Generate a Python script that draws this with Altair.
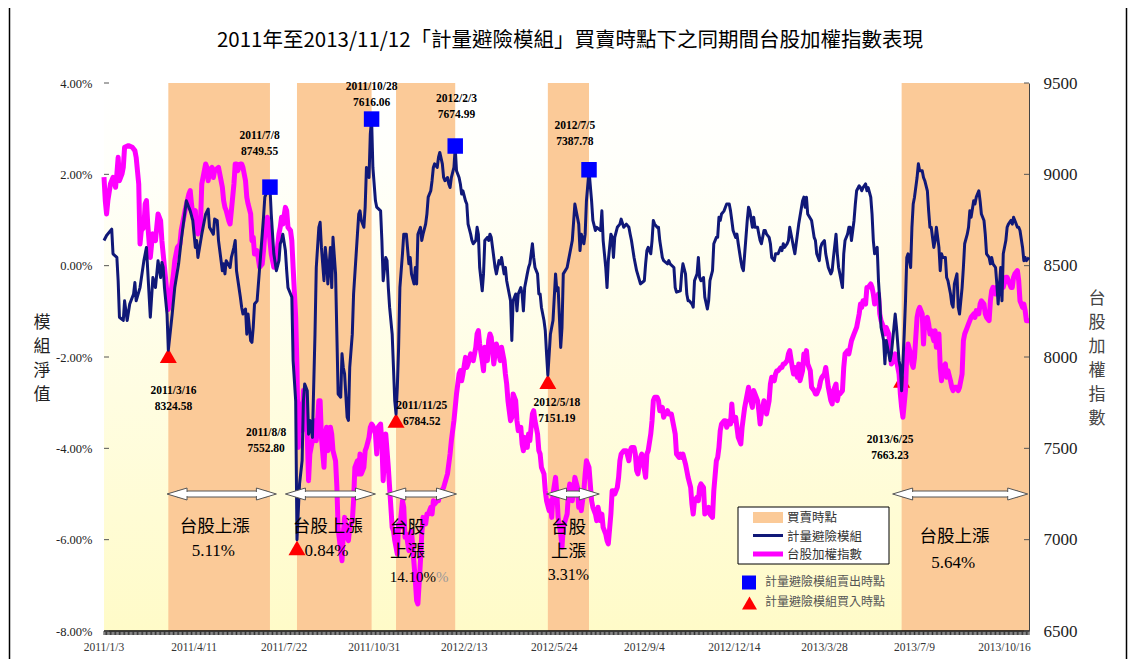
import altair as alt
import pandas as pd

W, H = 925, 548
N_LAST = 719

TITLE = "2011年至2013/11/12「計量避險模組」買賣時點下之同期間台股加權指數表現"
LEFT_TITLE = ["模", "組", "淨", "值"]
RIGHT_TITLE = ["台", "股", "加", "權", "指", "數"]

tick_days = [0, 70, 140, 210, 280, 350, 420, 490, 560, 630, 700]
tick_labels = ["2011/1/3", "2011/4/11", "2011/7/22", "2011/10/31", "2012/2/13",
               "2012/5/24", "2012/9/4", "2012/12/14", "2013/3/28", "2013/7/9", "2013/10/16"]
left_ticks = [-8, -6, -4, -2, 0, 2, 4]
right_ticks = [6500, 7000, 7500, 8000, 8500, 9000, 9500]

# 計量避險模組 (trading-day index, net value %)
model_series = [
    (0, 0.55), (2, 0.66), (6, 0.80), (7, 0.26), (10, 0.18), (11, -0.33), (12, -1.13), (15, -1.20),
    (16, -0.77), (18, -1.20), (20, -0.84), (23, -0.62), (24, -0.37), (25, -0.77), (28, -0.48),
    (31, 0.11), (33, 0.40), (36, -1.13), (38, -0.26), (40, -0.48), (42, 0.11), (44, -0.26),
    (45, 0.07), (46, -0.04), (47, -0.48), (49, -1.06), (50, -1.85), (53, -1.06), (55, -0.48),
    (58, 0.04), (60, 0.55), (63, 1.20), (64, 1.42), (67, 1.20), (69, 0.99), (71, 0.40), (72, 0.55),
    (73, 0.18), (76, 0.69), (79, 1.13), (81, 1.24), (82, 0.84), (85, 0.69), (86, 1.02), (88, 0.99),
    (89, 0.55), (92, -0.11), (93, 0.04), (94, -0.18), (95, 0.11), (98, -0.04), (99, 0.18),
    (101, 0.40), (102, 0.55), (103, -0.11), (106, -0.69), (107, -0.91), (108, -1.06), (110, -0.95),
    (111, -1.50), (112, -1.06), (114, -1.64), (115, -1.68), (116, -1.35), (117, -0.84), (119, -0.77),
    (121, -0.04), (124, 1.06), (125, 1.50), (127, 1.64), (129, 1.72), (130, 1.13), (132, 0.26),
    (134, -0.11), (136, 0.11), (137, 0.48), (138, 0.55), (139, 0.69), (141, 0.33), (142, -0.11),
    (143, -0.48), (145, -0.62), (146, -0.69), (147, -2.08), (149, -2.96), (150, -6.00), (152, -4.78),
    (154, -4.27), (155, -2.96), (156, -2.59), (158, -2.74), (159, -3.69), (160, -3.39), (162, -3.76),
    (164, -1.50), (165, -0.04), (167, 0.84), (168, 0.95), (169, 0.40), (171, -0.33), (172, 0.40),
    (173, 0.11), (174, -0.40), (176, 0.40), (177, -0.48), (178, 0.62), (180, -0.18), (181, -1.50),
    (182, -2.81), (184, -2.88), (185, -1.93), (186, -2.23), (187, -2.37), (189, -3.32), (190, -3.39),
    (191, -2.23), (193, -1.50), (194, -0.62), (197, 0.69), (198, 1.13), (199, 1.20), (200, 0.99),
    (202, 0.84), (203, 1.28), (204, 2.15), (206, 1.93), (207, 2.88), (208, 3.21), (209, 2.15),
    (211, 1.42), (212, 1.28), (215, 1.20), (216, 0.55), (217, -0.33), (219, 0.18), (220, 0.11),
    (221, -0.48), (222, -0.91), (224, -1.50), (225, -2.23), (226, -2.96), (227, -3.25), (228, -2.66),
    (229, -1.79), (230, -0.48), (232, 0.26), (233, 0.69), (235, 0.69), (237, 0.04), (238, 0.18),
    (239, -0.18), (241, -0.40), (242, -0.04), (243, -0.40), (244, 0.69), (246, 0.84), (247, 0.55),
    (248, 0.69), (250, 0.91), (251, 1.13), (252, 1.50), (254, 1.64), (255, 1.86), (256, 2.15),
    (257, 2.23), (259, 2.15), (260, 2.37), (261, 2.48), (263, 2.23), (264, 1.93), (265, 1.86),
    (267, 1.93), (268, 1.79), (269, 1.71), (270, 1.93), (272, 2.15), (273, 2.58), (274, 2.08),
    (276, 1.93), (277, 1.79), (278, 1.57), (279, 1.64), (281, 1.42), (282, 1.35), (283, 0.91),
    (285, 0.69), (286, 0.55), (287, 0.48), (289, 0.55), (290, 0.84), (291, 0.69), (292, -0.04),
    (294, -0.55), (295, -0.18), (296, 0.55), (298, 0.62), (299, 0.55), (300, 0.69), (301, 0.62),
    (303, 0.18), (304, -0.04), (305, -0.18), (307, 0.11), (308, 0.04), (309, 0.18), (311, -0.18),
    (312, -0.04), (313, -0.33), (314, -0.48), (316, -0.77), (317, -1.64), (318, -0.77), (320, -0.62),
    (321, -0.99), (322, -0.62), (324, -0.48), (325, -0.62), (326, -0.99), (327, -0.48), (329, -0.18),
    (330, -0.04), (331, 0.04), (333, 0.48), (334, 0.18), (335, -0.04), (337, -0.18), (338, -0.62),
    (339, -0.62), (340, -0.91), (342, -1.20), (343, -1.42), (344, -1.93), (345, -2.40), (347, -1.50),
    (348, -1.35), (349, -1.20), (351, -0.18), (352, -0.55), (353, -0.48), (355, -1.79), (356, -1.35),
    (357, -0.18), (360, -0.04), (361, 0.11), (364, 0.55), (366, 1.35), (369, 0.91), (370, 0.33),
    (371, 0.69), (373, 0.48), (374, 0.69), (375, 1.42), (377, 2.08), (379, 1.42), (380, 0.99),
    (382, 0.77), (383, 0.84), (386, 0.77), (387, 1.20), (388, 0.55), (390, -0.04), (391, -0.48),
    (392, 0.11), (394, 0.69), (395, 0.62), (396, 0.18), (397, 0.62), (399, 0.84), (401, 0.91),
    (402, 1.02), (404, 0.84), (406, 0.91), (408, 0.84), (409, 0.69), (410, 0.55), (412, 0.18),
    (414, -0.11), (417, -0.40), (420, -0.33), (421, 0.04), (422, 0.33), (423, 0.40), (425, 0.26),
    (426, 0.55), (427, 0.99), (428, 0.91), (430, 0.84), (431, 0.84), (432, 0.55), (434, 0.18),
    (435, 0.11), (438, 0.04), (439, 0.11), (440, 0.04), (443, -0.04), (444, -0.48), (445, -0.58),
    (448, -0.55), (449, -0.18), (450, 0.04), (452, -0.18), (453, -0.62), (454, -0.77), (455, -0.77),
    (457, -0.84), (458, -0.91), (459, -0.33), (461, -0.18), (462, 0.18), (463, -0.26), (464, -0.33),
    (466, -0.26), (467, -0.69), (469, -0.95), (470, -0.77), (471, -0.33), (473, -0.11), (474, 0.48),
    (476, 0.62), (477, 0.62), (478, 1.06), (479, 0.99), (480, 1.13), (482, 1.20), (483, 1.28),
    (484, 1.35), (486, 1.35), (487, 1.20), (488, 0.99), (489, 0.77), (491, 0.62), (492, 0.69),
    (493, 0.48), (495, 0.11), (496, -0.04), (497, -0.11), (498, 0.26), (500, 0.99), (501, 1.28),
    (502, 1.20), (504, 0.84), (505, 1.06), (506, 0.84), (508, 0.84), (509, 0.69), (510, 0.55),
    (511, 0.48), (513, 0.77), (514, 0.77), (515, 0.69), (517, 0.62), (518, 0.48), (519, 0.18),
    (521, 0.11), (522, 0.26), (523, 0.26), (524, 0.26), (526, 0.40), (527, 0.33), (528, 0.48),
    (529, 0.40), (531, 0.48), (532, 0.55), (533, 0.84), (535, 0.55), (536, 0.40), (537, 0.26),
    (539, 0.69), (540, 0.91), (543, 1.42), (544, 1.50), (545, 1.28), (546, 1.50), (547, 1.13),
    (550, 0.99), (552, 0.62), (553, 0.55), (554, 0.26), (556, 0.11), (557, 0.40), (558, 0.48),
    (560, 0.55), (561, 0.26), (562, 0.11), (563, -0.04), (565, -0.18), (566, -0.11), (567, 0.18),
    (569, 0.69), (570, 0.26), (571, -0.04), (572, -0.18), (574, -0.48), (575, 0.26), (576, 0.55),
    (578, 0.69), (579, 0.84), (580, 0.84), (581, 0.55), (583, 0.99), (584, 1.35), (585, 1.64),
    (587, 1.75), (588, 1.71), (589, 1.64), (590, 1.71), (592, 1.79), (593, 1.64), (594, 1.71),
    (596, 1.50), (597, 1.13), (598, 0.55), (599, 0.26), (601, 0.40), (602, -0.33), (603, -0.77),
    (604, -1.35), (606, -1.64), (607, -2.15), (608, -1.64), (610, -1.93), (611, -2.08), (612, -1.93),
    (614, -1.35), (615, -1.06), (616, -1.35), (618, -2.08), (619, -2.23), (620, -2.74), (622, -1.50),
    (623, -0.77), (624, 0.18), (625, 0.26), (627, -0.04), (628, 0.84), (629, 1.35), (630, 1.50),
    (632, 1.93), (633, 2.23), (634, 2.08), (636, 2.08), (637, 1.93), (638, 1.86), (640, 1.64),
    (641, 1.20), (642, 0.84), (643, 0.84), (645, 0.40), (646, 0.55), (647, 0.84), (649, 0.40),
    (650, -0.11), (651, 0.26), (652, 0.18), (654, 0.18), (655, -0.26), (656, -0.33), (658, -0.62),
    (659, -0.84), (660, -0.91), (661, -0.40), (663, -0.18), (664, -0.91), (665, -1.06), (667, -0.48),
    (668, -0.04), (669, 0.48), (671, 0.69), (672, 0.84), (673, 1.20), (674, 1.06), (676, 1.42),
    (677, 1.35), (678, 1.50), (680, 1.64), (681, 1.42), (682, 1.13), (684, 0.99), (685, 0.69),
    (686, 0.26), (688, 0.18), (689, 0.04), (690, 0.18), (691, 0.04), (693, -0.04), (694, -0.40),
    (695, -0.84), (697, -0.04), (698, -0.77), (699, 0.26), (701, 0.55), (702, 0.84), (703, 0.91),
    (705, 0.99), (706, 0.91), (707, 1.06), (708, 0.99), (710, 0.84), (711, 0.84), (712, 0.77),
    (714, 0.40), (715, 0.11), (716, 0.18), (717, 0.11), (719, 0.18),
]

# 台股加權指數 (trading-day index, index level)
taiex_series = [
    (0, 8985), (1, 8856), (2, 8783), (3, 8856), (5, 8947), (7, 8983), (9, 8929), (10, 9002),
    (11, 9093), (12, 8965), (14, 9002), (15, 9038), (16, 9148), (19, 9157), (22, 9148), (24, 9130),
    (25, 9093), (27, 8947), (28, 8619), (29, 8692), (31, 8710), (32, 8838), (33, 8856), (34, 8728),
    (36, 8545), (37, 8619), (38, 8674), (40, 8637), (41, 8710), (42, 8783), (44, 8746), (45, 8637),
    (46, 8564), (47, 8491), (49, 8345), (50, 8260), (51, 8290), (53, 8400), (54, 8455), (55, 8527),
    (57, 8600), (59, 8619), (60, 8692), (63, 8801), (66, 8893), (67, 8911), (68, 8838), (69, 8783),
    (71, 8801), (72, 8692), (73, 8674), (75, 8728), (76, 8947), (79, 9057), (80, 9038), (81, 8965),
    (82, 9020), (84, 9038), (85, 8983), (86, 9020), (89, 9038), (90, 9002), (92, 8929), (93, 8856),
    (94, 8819), (95, 8801), (97, 8746), (98, 8728), (99, 8801), (101, 8947), (102, 9057),
    (103, 9057), (104, 9020), (106, 9057), (107, 9057), (108, 9038), (110, 8965), (111, 8874),
    (112, 8838), (114, 8783), (115, 8637), (116, 8655), (117, 8564), (119, 8582), (121, 8491),
    (123, 8509), (124, 8582), (125, 8674), (127, 8765), (128, 8710), (129, 8637), (130, 8564),
    (132, 8491), (133, 8491), (134, 8545), (136, 8674), (137, 8710), (138, 8765), (139, 8728),
    (141, 8819), (142, 8801), (143, 8710), (145, 8692), (146, 8637), (147, 8491), (149, 8217),
    (150, 7943), (151, 7505), (152, 7743), (154, 7597), (155, 7816), (156, 7761), (158, 7579),
    (159, 7323), (160, 7469), (163, 7579), (164, 7651), (165, 7542), (167, 7761), (168, 7761),
    (169, 7560), (171, 7396), (172, 7579), (173, 7615), (174, 7487), (176, 7615), (177, 7579),
    (178, 7487), (180, 7432), (181, 7290), (182, 7060), (184, 6940), (185, 6885), (186, 7031),
    (187, 7122), (189, 7013), (190, 6995), (191, 7067), (193, 7104), (194, 7213), (195, 7396),
    (197, 7432), (198, 7360), (199, 7469), (200, 7360), (202, 7396), (203, 7487), (204, 7505),
    (206, 7560), (207, 7615), (208, 7633), (209, 7624), (211, 7579), (212, 7469), (213, 7615),
    (215, 7633), (216, 7524), (217, 7323), (219, 7579), (220, 7487), (221, 7396), (222, 7286),
    (224, 7067), (225, 7049), (226, 6995), (228, 6922), (229, 7086), (230, 7067), (232, 7213),
    (233, 7177), (234, 7013), (235, 7031), (237, 6940), (238, 7031), (239, 7049), (241, 6867),
    (242, 6776), (243, 6666), (244, 6648), (246, 6885), (247, 7031), (248, 7122), (250, 7086),
    (251, 7140), (252, 7140), (254, 7177), (255, 7140), (256, 7213), (257, 7195), (259, 7213),
    (260, 7213), (261, 7250), (264, 7286), (267, 7360), (269, 7469), (270, 7542), (272, 7651),
    (273, 7724), (274, 7798), (276, 7907), (277, 7925), (278, 7870), (279, 7907), (281, 7998),
    (282, 7943), (283, 7962), (285, 8017), (286, 7998), (287, 7980), (289, 8053), (290, 8126),
    (291, 8144), (292, 8071), (294, 7980), (295, 7925), (296, 8053), (298, 7980), (299, 8089),
    (300, 8126), (301, 8107), (303, 7962), (304, 8017), (305, 8071), (307, 8017), (308, 7980),
    (309, 8053), (311, 7980), (312, 7907), (313, 7852), (314, 7761), (316, 7651), (317, 7670),
    (318, 7798), (320, 7761), (321, 7651), (322, 7597), (324, 7615), (325, 7524), (326, 7487),
    (327, 7560), (329, 7505), (330, 7579), (331, 7542), (333, 7688), (334, 7706), (335, 7651),
    (337, 7579), (338, 7487), (339, 7469), (340, 7396), (342, 7360), (343, 7268), (344, 7213),
    (346, 7159), (347, 7213), (348, 7122), (349, 7250), (351, 7341), (352, 7250), (353, 7122),
    (355, 7031), (356, 6958), (357, 7070), (360, 7140), (361, 7250), (362, 7305), (364, 7213),
    (365, 7268), (366, 7341), (368, 7286), (369, 7177), (370, 7213), (371, 7159), (373, 7268),
    (374, 7360), (375, 7432), (377, 7396), (378, 7305), (379, 7213), (380, 7177), (382, 7140),
    (383, 7104), (384, 7177), (386, 7104), (387, 7140), (388, 7067), (390, 7031), (391, 6995),
    (392, 6977), (394, 7140), (395, 7268), (396, 7268), (397, 7250), (399, 7286), (400, 7341),
    (401, 7432), (402, 7469), (404, 7487), (406, 7487), (408, 7432), (409, 7487), (410, 7505),
    (412, 7505), (413, 7469), (414, 7378), (415, 7360), (417, 7450), (418, 7469), (419, 7432),
    (421, 7341), (422, 7469), (423, 7487), (425, 7579), (426, 7651), (427, 7761), (428, 7779),
    (430, 7779), (431, 7761), (432, 7706), (434, 7724), (435, 7670), (436, 7688), (438, 7706),
    (439, 7688), (441, 7688), (443, 7615), (444, 7579), (445, 7469), (447, 7450), (448, 7469),
    (449, 7450), (450, 7469), (452, 7414), (453, 7378), (454, 7341), (456, 7286), (457, 7195),
    (458, 7140), (459, 7213), (461, 7232), (462, 7213), (463, 7286), (464, 7305), (466, 7286),
    (467, 7140), (469, 7159), (470, 7177), (471, 7140), (473, 7122), (474, 7268), (476, 7432),
    (477, 7450), (478, 7505), (479, 7597), (480, 7633), (482, 7651), (483, 7651), (484, 7615),
    (486, 7651), (487, 7633), (488, 7743), (489, 7651), (491, 7670), (492, 7615), (493, 7560),
    (495, 7524), (496, 7615), (497, 7670), (498, 7724), (500, 7798), (501, 7834), (502, 7779),
    (504, 7724), (505, 7816), (506, 7798), (508, 7761), (509, 7706), (510, 7633), (511, 7688),
    (513, 7761), (514, 7724), (515, 7688), (517, 7761), (518, 7852), (519, 7889), (521, 7870),
    (522, 7907), (523, 7925), (524, 7925), (526, 7943), (527, 7943), (528, 7962), (529, 7962),
    (531, 7980), (532, 8017), (533, 8035), (535, 7943), (536, 7907), (537, 7943), (539, 7889),
    (540, 7962), (541, 7870), (543, 7925), (544, 8017), (545, 7980), (546, 8035), (547, 7962),
    (549, 7925), (550, 7834), (552, 7816), (553, 7798), (554, 7798), (556, 7834), (557, 7870),
    (558, 7889), (560, 7907), (561, 7943), (562, 7889), (563, 7834), (565, 7761), (566, 7743),
    (567, 7816), (569, 7852), (570, 7761), (571, 7798), (572, 7798), (574, 7816), (575, 7943),
    (576, 8017), (578, 8035), (579, 8017), (580, 8053), (581, 8089), (583, 8126), (584, 8144),
    (585, 8162), (587, 8236), (588, 8290), (589, 8272), (590, 8308), (592, 8290), (593, 8381),
    (594, 8381), (596, 8400), (597, 8381), (598, 8345), (599, 8290), (601, 8308), (602, 8345),
    (603, 8236), (604, 8199), (606, 8162), (607, 8126), (608, 8162), (610, 8126), (611, 8053),
    (612, 7962), (614, 7980), (615, 8017), (616, 7980), (618, 7907), (619, 7798), (620, 7724),
    (621, 7670), (623, 7816), (624, 8017), (625, 8071), (627, 8017), (628, 7962), (629, 7943),
    (630, 7998), (632, 8217), (633, 8254), (634, 8272), (636, 8236), (637, 8071), (638, 8199),
    (640, 8217), (641, 8181), (642, 8126), (643, 8144), (645, 8089), (646, 8144), (647, 8053),
    (649, 8126), (650, 7943), (651, 7870), (652, 7943), (654, 7962), (655, 7889), (656, 7925),
    (658, 7870), (659, 7834), (660, 7816), (661, 7834), (663, 7834), (664, 7816), (665, 7834),
    (667, 7907), (668, 8089), (669, 8126), (671, 8162), (672, 8181), (673, 8199), (674, 8217),
    (676, 8236), (677, 8217), (678, 8254), (680, 8236), (681, 8290), (682, 8308), (684, 8290),
    (685, 8236), (686, 8217), (688, 8199), (689, 8308), (690, 8363), (691, 8381), (693, 8345),
    (694, 8381), (695, 8345), (697, 8381), (698, 8418), (699, 8381), (701, 8436), (702, 8436),
    (703, 8418), (705, 8381), (706, 8381), (707, 8436), (708, 8455), (710, 8473), (711, 8418),
    (712, 8308), (714, 8272), (715, 8290), (716, 8254), (717, 8199), (719, 8199),
]

# buy (red triangle) and sell (blue square) points
buy_day = [50, 150, 227, 345, 620]
buy_pct = [-1.97, -6.18, -3.39, -2.54, -2.51]
buy_date = ["2011/3/16", "2011/8/8", "2011/11/25", "2012/5/18", "2013/6/25"]
buy_index = ["8324.58", "7552.80", "6784.52", "7151.19", "7663.23"]
buy_label_day = [54, 126, 247, 352, 611]
buy_label_pct = [-2.93, -3.83, -3.25, -3.18, -4.00]

sell_day = [129, 208, 273, 377]
sell_pct = [1.72, 3.21, 2.62, 2.10]
sell_date = ["2011/7/8", "2011/10/28", "2012/2/3", "2012/7/5"]
sell_index = ["8749.55", "7616.06", "7674.99", "7387.78"]
sell_label_day = [121, 208, 274, 366]
sell_label_pct = [2.67, 3.74, 3.47, 2.88]

# double arrows marking each holding period
arrow_start = [49, 141, 219, 344, 613]
arrow_end = [134, 211, 274, 385, 718]
arrow_pct = [-5.0, -5.0, -5.0, -5.0, -5.0]

rise_cjk = ["台股上漲", "台股上漲", "台股", "上漲", "台股", "上漲", "台股上漲"]
rise_cjk_day = [86, 174, 236, 236, 361, 361, 661]
rise_cjk_pct = [-5.73, -5.73, -5.74, -6.28, -5.74, -6.28, -5.95]
rise_num = ["5.11%", "0.84%", "14.10%", "%", "3.31%", "5.64%"]
rise_num_day = [85, 173, 240, 263, 361, 660]
rise_num_pct = [-6.24, -6.24, -6.81, -6.81, -6.78, -6.50]
rise_num_size = [17, 17, 15, 15, 16, 17]
rise_num_color = ["#000000", "#000000", "#000000", "#999999", "#000000", "#000000"]

legend_labels = ["買賣時點", "計量避險模組", "台股加權指數"]
marker_labels = ["計量避險模組賣出時點", "計量避險模組買入時點"]

ORANGE = "#FBCA98"
NAVY = "#101878"
MAGENTA = "#FF00FF"
CJK = "Noto Sans CJK TC"
SERIF = "Liberation Serif"

# ---------------------------------------------------------------- data frames
model_df = pd.DataFrame(model_series, columns=["day", "pct"])
taiex_df = pd.DataFrame(taiex_series, columns=["day", "val"])
period_df = pd.DataFrame({"start": buy_day, "end": sell_day + [N_LAST]})
buy_df = pd.DataFrame({"day": buy_day, "pct": buy_pct})
sell_df = pd.DataFrame({"day": sell_day, "pct": sell_pct})
label_df = pd.DataFrame({
    "day": sell_label_day + buy_label_day,
    "pct": sell_label_pct + buy_label_pct,
    "date": sell_date + buy_date,
    "idx": sell_index + buy_index,
})
half = 3.0 / (H / 12.0)
arrow_df = pd.DataFrame({"start": arrow_start, "end": arrow_end, "pct": arrow_pct})
arrow_df["top"] = arrow_df["pct"] + half
arrow_df["bot"] = arrow_df["pct"] - half
cjk_df = pd.DataFrame({"day": rise_cjk_day, "pct": rise_cjk_pct, "t": rise_cjk})
num_df = pd.DataFrame({"day": rise_num_day, "pct": rise_num_pct, "t": rise_num,
                       "fs": rise_num_size, "c": rise_num_color})
tick_df = pd.DataFrame({"pct": left_ticks})
xlab_df = pd.DataFrame({"day": tick_days, "t": tick_labels})
comb_df = pd.DataFrame({"day": list(range(N_LAST + 1))})   # one minor tick per trading day
one = pd.DataFrame({"k": [0]})

X = alt.Scale(domain=[0, N_LAST], nice=False, zero=False)
YL = alt.Scale(domain=[-8, 4], nice=False, zero=False)
YR = alt.Scale(domain=[6500, 9500], nice=False, zero=False)


def xq(field):
    return alt.X(f"{field}:Q", scale=X, axis=None)


def yq(field):
    return alt.Y(f"{field}:Q", scale=YL, axis=None)


# ---------------------------------------------------------------- layers
grad = alt.LinearGradient(
    gradient="linear",
    stops=[alt.GradientStop(color="#FFFFFF", offset=0),
           alt.GradientStop(color="#FFFFFA", offset=0.15),
           alt.GradientStop(color="#FFFBC8", offset=1)],
    x1=0, x2=0, y1=0, y2=1,
)
bg = alt.Chart(one).mark_rect(color=grad).encode(
    x=alt.value(0), x2=alt.value(W), y=alt.value(0), y2=alt.value(H))

regions = alt.Chart(period_df).mark_rect(color=ORANGE).encode(
    x=xq("start"), x2="end:Q", y=alt.value(0), y2=alt.value(H))

frame_l = alt.Chart(one).mark_rule(color="#000", strokeWidth=1.5).encode(
    x=alt.value(-94.5), y=alt.value(-83), y2=alt.value(H + 28))
frame_r = alt.Chart(one).mark_rule(color="#000", strokeWidth=1.5).encode(
    x=alt.value(1022.5), y=alt.value(-83), y2=alt.value(H + 28))

tri = alt.Chart(buy_df).mark_point(shape="triangle-up", filled=True, color="#FF0000",
                                   size=289, opacity=1).encode(x=xq("day"), y=yq("pct"))

taiex_line = alt.Chart(taiex_df).mark_line(color=MAGENTA, strokeWidth=5, strokeJoin="round").encode(
    x=xq("day"),
    y=alt.Y("val:Q", scale=YR, title=None,
            axis=alt.Axis(orient="right", values=right_ticks, format="d", labelFont=SERIF,
                          labelFontSize=17, labelColor="#222", labelPadding=14, labelFlush=False,
                          ticks=False, domainColor="#444", domainWidth=1, grid=False)),
)

model_line = alt.Chart(model_df).mark_line(color=NAVY, strokeWidth=3, strokeJoin="round").encode(
    x=xq("day"),
    y=alt.Y("pct:Q", scale=YL, title=None,
            axis=alt.Axis(orient="left", values=left_ticks,
                          labelExpr="(datum.value < 0 ? '-' : '') + format(abs(datum.value), '.2f') + '%'",
                          labelFont=SERIF, labelFontSize=12.5, labelColor="#222", labelPadding=12,
                          labelFlush=False, ticks=False, domainColor="#777", domainWidth=1,
                          grid=False)),
)

# category axis along the bottom: minor tick per trading day, dated labels
x_domain = alt.Chart(one).mark_rule(color="#000", strokeWidth=1.5).encode(
    x=alt.value(0), x2=alt.value(W), y=alt.value(H))
comb = alt.Chart(comb_df).mark_rule(color="#333", strokeWidth=1).encode(
    x=xq("day"), y=alt.value(H), y2=alt.value(H + 4))
x_labels = alt.Chart(xlab_df).mark_text(font=SERIF, fontSize=11.5, color="#333").encode(
    x=xq("day"), y=alt.value(H + 17), text="t:N")

squares = alt.Chart(sell_df).mark_square(color="#0000FF", size=240, opacity=1).encode(
    x=xq("day"), y=yq("pct"))

ticks_l = alt.Chart(tick_df).mark_rule(color="#555").encode(
    y=yq("pct"), x=alt.value(0), x2=alt.value(5))
ticks_r = alt.Chart(tick_df).mark_rule(color="#555").encode(
    y=yq("pct"), x=alt.value(W - 5), x2=alt.value(W))

date_text = alt.Chart(label_df).mark_text(font=SERIF, fontSize=11.5, fontWeight="bold",
                                          color="#000", dy=-8).encode(
    x=xq("day"), y=yq("pct"), text="date:N")
idx_text = alt.Chart(label_df).mark_text(font=SERIF, fontSize=11.5, fontWeight="bold",
                                         color="#000", dy=8).encode(
    x=xq("day"), y=yq("pct"), text="idx:N")

shaft = alt.Chart(arrow_df).mark_rect(fill="white", stroke="#555", strokeWidth=1,
                                      xOffset=10, x2Offset=-10).encode(
    x=xq("start"), x2="end:Q", y=yq("top"), y2="bot:Q")
head_l = alt.Chart(arrow_df).mark_point(shape="M0,0L2,-0.6L2,0.6Z", size=400, filled=True,
                                        fill="white", stroke="#555", strokeWidth=1, opacity=1).encode(
    x=xq("start"), y=yq("pct"))
head_r = alt.Chart(arrow_df).mark_point(shape="M0,0L-2,-0.6L-2,0.6Z", size=400, filled=True,
                                        fill="white", stroke="#555", strokeWidth=1, opacity=1).encode(
    x=xq("end"), y=yq("pct"))
cover = alt.Chart(arrow_df).mark_rect(fill="white", xOffset=12, x2Offset=-12,
                                      yOffset=1, y2Offset=-1).encode(
    x=xq("start"), x2="end:Q", y=yq("top"), y2="bot:Q")

cjk_text = alt.Chart(cjk_df).mark_text(font=CJK, fontSize=17.5, color="#000").encode(
    x=xq("day"), y=yq("pct"), text="t:N")
num_text = alt.Chart(num_df).mark_text(font=SERIF).encode(
    x=xq("day"), y=yq("pct"), text="t:N",
    size=alt.Size("fs:Q", scale=None, legend=None),
    color=alt.Color("c:N", scale=None, legend=None))

# manual legend (series entries in one bordered box, marker keys below it)
leg_box = alt.Chart(one).mark_rect(fill="white", stroke="#000", strokeWidth=1).encode(
    x=alt.value(634), x2=alt.value(785), y=alt.value(424), y2=alt.value(481))
leg_rect = alt.Chart(one).mark_rect(color=ORANGE).encode(
    x=alt.value(649), x2=alt.value(679), y=alt.value(429), y2=alt.value(440))
leg_navy = alt.Chart(one).mark_rule(color=NAVY, strokeWidth=3).encode(
    x=alt.value(649), x2=alt.value(679), y=alt.value(452.5))
leg_mag = alt.Chart(one).mark_rule(color=MAGENTA, strokeWidth=5).encode(
    x=alt.value(649), x2=alt.value(679), y=alt.value(471))
leg_text = alt.Chart(one).mark_text(text=legend_labels, font=CJK, fontSize=12.5, color="#333",
                                    lineHeight=18.5, baseline="top", align="left").encode(
    x=alt.value(683), y=alt.value(429))
leg_sq = alt.Chart(one).mark_square(color="#0000FF", size=196, opacity=1).encode(
    x=alt.value(645), y=alt.value(499.5))
leg_tri = alt.Chart(one).mark_point(shape="triangle-up", filled=True, color="#FF0000", size=225,
                                    opacity=1).encode(x=alt.value(645.5), y=alt.value(520))
leg_mtexts = [
    alt.Chart(one).mark_text(text=t, font=CJK, fontSize=12, color="#555", align="left").encode(
        x=alt.value(661), y=alt.value(yy))
    for t, yy in zip(marker_labels, [499, 519])
]

title_text = alt.Chart(one).mark_text(text=TITLE, font=CJK, fontSize=20.5, color="#000",
                                      align="center").encode(x=alt.value(466), y=alt.value(-42))
ltitle = alt.Chart(one).mark_text(text=LEFT_TITLE, font=CJK, fontSize=17, color="#222",
                                  lineHeight=24, baseline="top", align="center").encode(
    x=alt.value(-62), y=alt.value(232))
rtitle = alt.Chart(one).mark_text(text=RIGHT_TITLE, font=CJK, fontSize=17, color="#444",
                                  lineHeight=24, baseline="top", align="center").encode(
    x=alt.value(993), y=alt.value(208))

chart = alt.layer(
    bg, regions, frame_l, frame_r, tri, taiex_line, model_line, x_domain, comb, x_labels,
    squares, ticks_l, ticks_r,
    date_text, idx_text, shaft, head_l, head_r, cover, cjk_text, num_text,
    leg_box, leg_rect, leg_navy, leg_mag, leg_text, leg_sq, leg_tri, *leg_mtexts,
    title_text, ltitle, rtitle,
).resolve_scale(y="independent").properties(
    width=W, height=H,
    autosize=alt.AutoSizeParams(type="none"),
    padding={"left": 96, "top": 75, "right": 99, "bottom": 28},
).configure_view(stroke="transparent")

chart.save("out.html", embed_options={"renderer": "svg", "actions": False})
